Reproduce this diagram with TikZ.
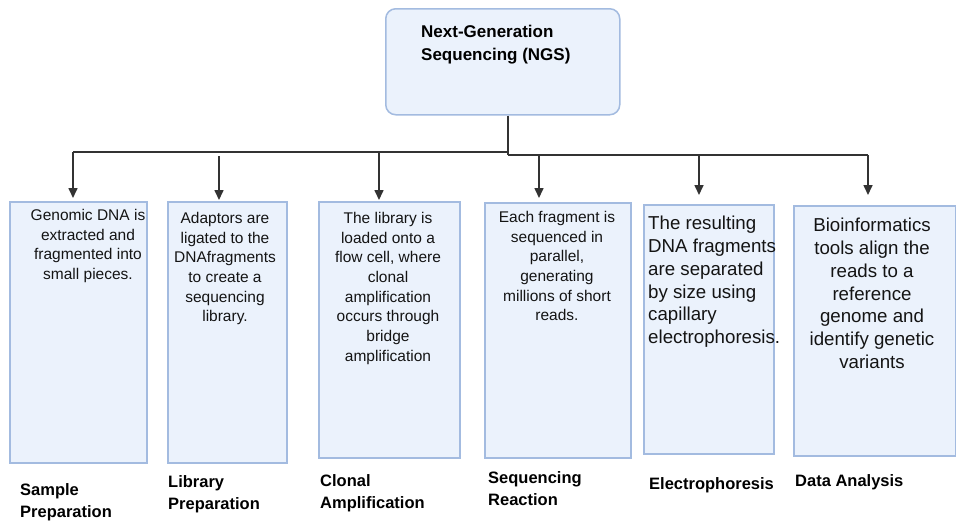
\documentclass[tikz,border=0pt]{standalone}
\usepackage{fontspec}
\setmainfont{Liberation Sans}
\usetikzlibrary{arrows.meta}
\definecolor{boxfill}{HTML}{EBF2FC}
\definecolor{boxline}{HTML}{A3BBE0}
\definecolor{linec}{HTML}{333333}
\begin{document}
\begin{tikzpicture}[x=1pt,y=-1pt,
  box/.style={draw=boxline, fill=boxfill, line width=1.5pt, inner sep=0pt, anchor=north west},
  topbox/.style={box, rounded corners=10pt},
  body/.style={inner sep=0pt, anchor=north, align=center, text=black!92, font=\fontsize{15.5}{19.7}\selectfont},
  bigbody/.style={inner sep=0pt, text=black!92, font=\fontsize{18.7}{22.8}\selectfont},
  lab/.style={inner sep=0pt, anchor=north west, align=left, font=\bfseries\fontsize{16.5}{22}\selectfont},
  conn/.style={draw=linec, line width=1.6pt},
  arr/.style={conn, -{Triangle[length=10pt,width=9pt]}, shorten >=1pt}
]
\useasboundingbox (0,0) rectangle (956,520);
\fill[white] (0,0) rectangle (956,520);

% top box
\node[topbox, minimum width=234pt, minimum height=106pt] (top) at (385,8) {};
\node[inner sep=0pt, anchor=north west, align=left, font=\bfseries\fontsize{17}{23}\selectfont] (title) at (421,25) {Next-Generation\\Sequencing (NGS)};

% step boxes
\node[box, minimum width=137pt, minimum height=261pt] (b1) at (9,201) {};
\node[box, minimum width=119pt, minimum height=261pt] (b2) at (167,201) {};
\node[box, minimum width=141pt, minimum height=256pt] (b3) at (318,201) {};
\node[box, minimum width=146pt, minimum height=255pt] (b4) at (484,202) {};
\node[box, minimum width=130pt, minimum height=249pt] (b5) at (643,204) {};
\node[box, minimum width=162pt, minimum height=250pt] (b6) at (793,205) {};

% box texts
\node[body] (x1) at (88,209) {Genomic DNA is\\extracted and\\fragmented into\\small pieces.};
\node[body] (x2) at (225,212) {Adaptors are\\ligated to the\\DNAfragments\\to create a\\sequencing\\library.};
\node[body] (x3) at (388,212) {The library is\\loaded onto a\\flow cell, where\\clonal\\amplification\\occurs through\\bridge\\amplification};
\node[body] (x4) at (557,211) {Each fragment is\\sequenced in\\parallel,\hspace{1.2em}\\generating\\millions of short\\reads.};
\node[bigbody, anchor=north west, align=left] (x5) at (648,216) {The resulting\\DNA fragments\\are separated\\by size using\\capillary\\electrophoresis.};
\node[bigbody, anchor=north, align=center] (x6) at (872,218) {Bioinformatics\\tools align the\\reads to a\\reference\\genome and\\identify genetic\\variants};

% bottom labels
\node[lab] (l1) at (20,483) {Sample\\Preparation};
\node[lab] (l2) at (168,475) {Library\\Preparation};
\node[lab] (l3) at (320,474) {Clonal\\Amplification};
\node[lab] (l4) at (488,471) {Sequencing\\Reaction};
\node[lab] (l5) at (649,477) {Electrophoresis};
\node[lab] (l6) at (795,474) {Data Analysis};

% connectors
\coordinate (jl) at (508,152);
\coordinate (jr) at (508,155);
\coordinate (t1) at (73,152);
\coordinate (t2) at (219,152);
\coordinate (t3) at (379,152);
\coordinate (t4) at (539,155);
\coordinate (t5) at (699,155);
\coordinate (t6) at (868,155);
\draw[conn] (top.south -| jr) -- (jr);
\draw[conn] (t1) -- (jl);
\draw[conn] (jr) -- (t6);
\draw[arr] (t1) -- ([yshift=2pt]t1 |- b1.north);
\draw[arr] ([yshift=-4pt]t2) -- (t2 |- b2.north);
\draw[arr] (t3) -- (t3 |- b3.north);
\draw[arr] (t4) -- ([yshift=3pt]t4 |- b4.north);
\draw[arr] (t5) -- ([yshift=8pt]t5 |- b5.north);
\draw[arr] (t6) -- ([yshift=9pt]t6 |- b6.north);
\end{tikzpicture}
\end{document}
